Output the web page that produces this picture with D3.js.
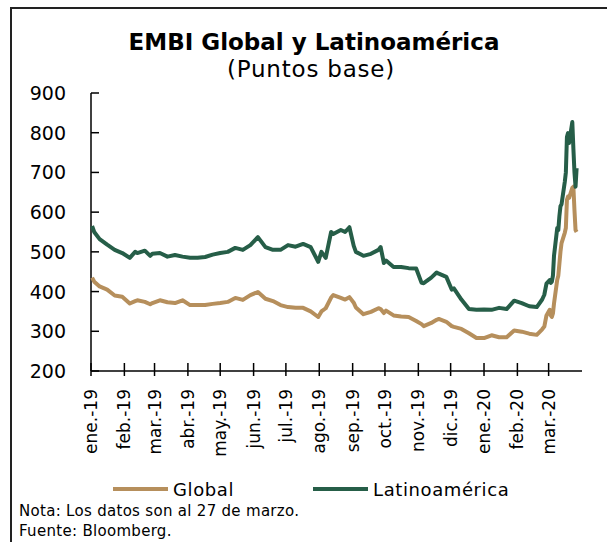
<!DOCTYPE html>
<html>
<head>
<meta charset="utf-8">
<script src="https://cdn.jsdelivr.net/npm/d3@7"></script>
<style>
  body { margin: 0; background: #fff; }
  svg { font-family: "DejaVu Sans", sans-serif; }
</style>
</head>
<body>
<div id="chart"></div>
<script>
// fechas (dias habiles, aprox. semanal y diario en marzo 2020)
var fechas = ["2019-01-02","2019-01-04","2019-01-09","2019-01-16","2019-01-23","2019-01-30",
  "2019-02-06","2019-02-11","2019-02-13","2019-02-20","2019-02-25","2019-02-27","2019-03-06","2019-03-13","2019-03-20","2019-03-27",
  "2019-04-03","2019-04-10","2019-04-17","2019-04-24","2019-05-01","2019-05-08","2019-05-15","2019-05-22","2019-05-29",
  "2019-06-05","2019-06-12","2019-06-19","2019-06-26","2019-07-03","2019-07-10","2019-07-17","2019-07-24","2019-07-31",
  "2019-08-03","2019-08-07","2019-08-12","2019-08-14","2019-08-21","2019-08-25","2019-08-29",
  "2019-09-02","2019-09-04","2019-09-11","2019-09-18","2019-09-25","2019-09-27","2019-09-30",
  "2019-10-02","2019-10-09","2019-10-16","2019-10-23","2019-10-30",
  "2019-11-04","2019-11-06","2019-11-13","2019-11-18","2019-11-20","2019-11-27",
  "2019-12-02","2019-12-04","2019-12-11","2019-12-18","2019-12-25",
  "2020-01-01","2020-01-08","2020-01-15","2020-01-22","2020-01-29",
  "2020-02-05","2020-02-12","2020-02-19","2020-02-24","2020-02-26","2020-02-28",
  "2020-03-02","2020-03-03","2020-03-04","2020-03-05","2020-03-06","2020-03-09","2020-03-10","2020-03-11",
  "2020-03-12","2020-03-13","2020-03-16","2020-03-17","2020-03-18","2020-03-19","2020-03-20",
  "2020-03-23","2020-03-24","2020-03-25","2020-03-26","2020-03-27"];

var global = [435,425,413,405,390,387,
  370,376,378,374,368,371,378,373,371,378,
  366,366,366,369,371,374,384,379,391,
  399,382,376,366,361,359,359,350,336,
  350,358,385,391,384,380,386,
  372,360,343,349,358,356,346,
  352,340,337,336,326,
  318,313,321,329,331,324,
  313,311,306,295,283,
  283,290,285,285,302,
  299,294,291,305,312,340,
  354,340,336,345,370,430,440,470,
  500,522,548,560,631,639,636,
  661,664,605,555,550];

var latam = [565,550,532,518,505,497,
  485,500,497,503,490,495,497,488,492,488,
  485,485,487,493,497,500,510,505,517,
  537,512,505,505,517,513,520,512,475,
  500,485,550,545,555,550,562,
  515,500,490,495,505,512,472,
  478,462,462,459,458,
  422,421,435,448,445,437,
  405,408,380,356,354,
  355,354,359,356,377,
  371,363,361,380,392,420,
  429,422,425,440,490,560,555,590,
  615,620,676,700,789,799,774,
  827,760,700,664,711];

var meses = ["ene.-19","feb.-19","mar.-19","abr.-19","may.-19","jun.-19","jul.-19","ago.-19",
  "sep.-19","oct.-19","nov.-19","dic.-19","ene.-20","feb.-20","mar.-20"];
var yTicks = [200,300,400,500,600,700,800,900];

var series = [
  {name: "Global", values: global, color: "#B68F5C"},
  {name: "Latinoamérica", values: latam, color: "#265E48"}
];

var width = 607, height = 542;
var parse = d3.timeParse("%Y-%m-%d");
var dates = fechas.map(parse);

var svg = d3.select("#chart").append("svg")
  .attr("width", width)
  .attr("height", height);

// marco
svg.append("path")
  .attr("d", "M11,542 L11,8 L607,8")
  .attr("fill", "none")
  .attr("stroke", "#222")
  .attr("stroke-width", 2);

var x = d3.scaleTime()
  .domain([new Date(2019, 0, 1), new Date(2020, 3, 1)])
  .range([91, 582]);

var y = d3.scaleLinear()
  .domain([200, 900])
  .range([371, 93]);

// titulo
svg.append("text")
  .attr("x", 314).attr("y", 50)
  .attr("text-anchor", "middle")
  .style("font-size", "23px")
  .style("font-weight", "bold")
  .text("EMBI Global y Latinoamérica");

svg.append("text")
  .attr("x", 311).attr("y", 77)
  .attr("text-anchor", "middle")
  .style("font-size", "23px")
  .style("letter-spacing", "0.8px")
  .text("(Puntos base)");

// eje y
var yAxis = svg.append("g");
yAxis.append("line")
  .attr("x1", 91).attr("x2", 91)
  .attr("y1", y(900)).attr("y2", y(200))
  .attr("stroke", "#000").attr("stroke-width", 1.5);

yAxis.selectAll(".ytick")
  .data(yTicks)
  .enter().append("line")
  .attr("x1", 91).attr("x2", 99)
  .attr("y1", function(d) { return y(d); })
  .attr("y2", function(d) { return y(d); })
  .attr("stroke", "#000").attr("stroke-width", 1.5);

yAxis.selectAll(".ylab")
  .data(yTicks)
  .enter().append("text")
  .attr("x", 66)
  .attr("y", function(d) { return y(d) + 7; })
  .attr("text-anchor", "end")
  .style("font-size", "19px")
  .text(function(d) { return d; });

// eje x
var monthDates = d3.timeMonth.range(new Date(2019, 0, 1), new Date(2020, 3, 1));
var xAxis = svg.append("g");
xAxis.append("line")
  .attr("x1", x.range()[0]).attr("x2", x.range()[1])
  .attr("y1", y(200)).attr("y2", y(200))
  .attr("stroke", "#000").attr("stroke-width", 1.5);

xAxis.selectAll(".xtick")
  .data(monthDates)
  .enter().append("line")
  .attr("x1", function(d) { return x(d); })
  .attr("x2", function(d) { return x(d); })
  .attr("y1", y(200) - 8).attr("y2", y(200) + 5)
  .attr("stroke", "#000").attr("stroke-width", 1.5);

xAxis.selectAll(".xlab")
  .data(monthDates)
  .enter().append("text")
  .attr("transform", function(d) { return "translate(" + (x(d) + 6) + "," + 389 + ") rotate(-90)"; })
  .attr("text-anchor", "end")
  .style("font-size", "17px")
  .text(function(d, i) { return meses[i]; });

// lineas
var line = d3.line()
  .x(function(d, i) { return x(dates[i]); })
  .y(function(d) { return y(d); });

svg.selectAll(".serie")
  .data(series)
  .enter().append("path")
  .attr("class", "serie")
  .attr("d", function(s) { return line(s.values); })
  .attr("fill", "none")
  .attr("stroke", function(s) { return s.color; })
  .attr("stroke-width", 4)
  .attr("stroke-linejoin", "round");

// leyenda
var legend = svg.selectAll(".leg")
  .data(series)
  .enter().append("g")
  .attr("transform", function(d, i) { return "translate(" + (113 + i * 200) + ",489)"; });

legend.append("line")
  .attr("x1", 0).attr("x2", 55)
  .attr("stroke", function(d) { return d.color; })
  .attr("stroke-width", 4);

legend.append("text")
  .attr("x", 60).attr("y", 7)
  .style("font-size", "18px")
  .style("letter-spacing", "0.6px")
  .text(function(d) { return d.name; });

// notas
svg.append("text")
  .attr("x", 19).attr("y", 516)
  .style("font-size", "15px")
  .style("letter-spacing", "0.3px")
  .text("Nota: Los datos son al 27 de marzo.");

svg.append("text")
  .attr("x", 19).attr("y", 536)
  .style("font-size", "15px")
  .style("letter-spacing", "0.3px")
  .text("Fuente: Bloomberg.");
</script>
</body>
</html>
